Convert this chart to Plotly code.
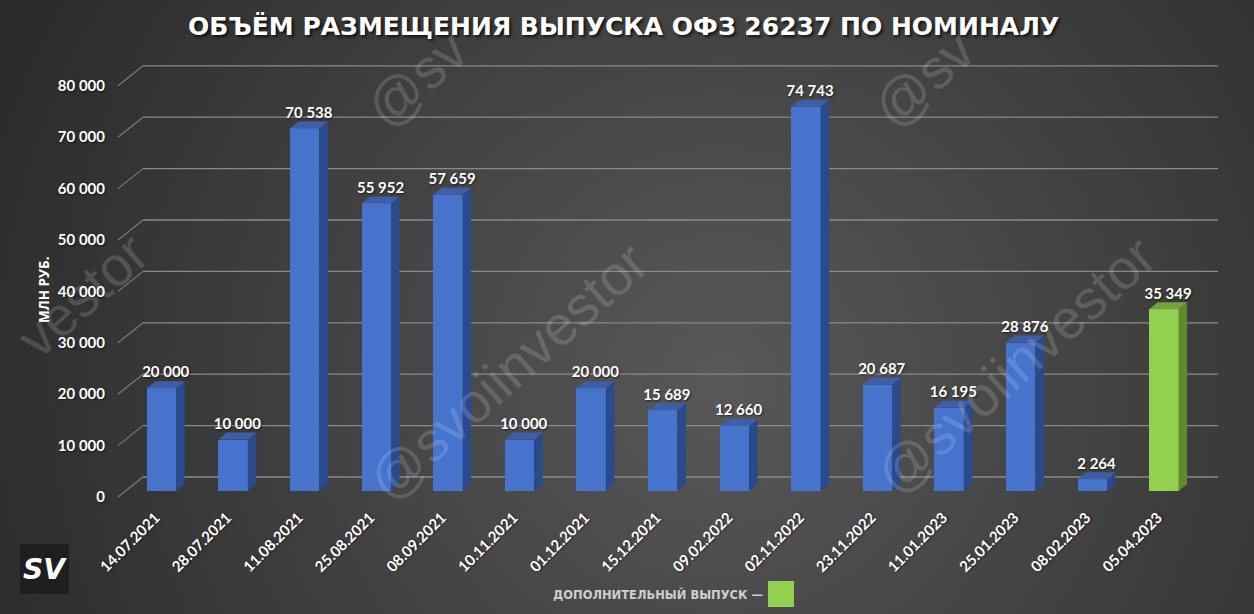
import base64
import plotly.graph_objects as go

# ---------------- data ----------------
dates = ["14.07.2021", "28.07.2021", "11.08.2021", "25.08.2021", "08.09.2021",
         "10.11.2021", "01.12.2021", "15.12.2021", "09.02.2022", "02.11.2022",
         "23.11.2022", "11.01.2023", "25.01.2023", "08.02.2023", "05.04.2023"]
volumes = [20000, 10000, 70538, 55952, 57659, 10000, 20000, 15689, 12660, 74743,
           20687, 16195, 28876, 2264, 35349]
is_additional = [False, False, False, False, False, False, False, False, False, False,
                 False, False, False, False, True]
y_ticks = [0, 10000, 20000, 30000, 40000, 50000, 60000, 70000, 80000]

title_text = "ОБЪЁМ РАЗМЕЩЕНИЯ ВЫПУСКА ОФЗ 26237 ПО НОМИНАЛУ"
y_title = "МЛН РУБ."
legend_text = "ДОПОЛНИТЕЛЬНЫЙ ВЫПУСК —"
watermark = "@svoiinvestor"

# ---------------- geometry (pixels) ----------------
W, H = 1254, 614
ML, MR, MT, MB = 118, 36, 50, 109
PX0, PX1 = ML, W - MR          # plot area x pixels
PY0, PY1 = MT, H - MB          # plot area y pixels (top, bottom)
XC0, XSTEP = 161.5, 71.6       # pixel centre of first category, category step
Y0PX, PX_PER_UNIT = 491, 51.4 / 10000

x_range = [(PX0 - XC0) / XSTEP, (PX1 - XC0) / XSTEP]
y_range = [-(PY1 - Y0PX) / PX_PER_UNIT, (Y0PX - PY0) / PX_PER_UNIT]


def paper_x(px):
    return (px - PX0) / (PX1 - PX0)


def paper_y(py):
    return (PY1 - py) / (PY1 - PY0)


BAR_W = 0.41
DEPTH_DX = 8.5 / XSTEP
DEPTH_DY = 7 / PX_PER_UNIT

BLUE_FRONT, BLUE_SIDE, BLUE_TOP = "#4673cc", "#2a4a8e", "#3f5ea6"
GREEN_FRONT, GREEN_SIDE, GREEN_TOP = "#92d050", "#5f8a30", "#74a23c"

idx = list(range(len(dates)))

fig = go.Figure()

# front faces
fig.add_trace(go.Bar(
    x=idx, y=volumes, width=BAR_W,
    marker=dict(color=[GREEN_FRONT if a else BLUE_FRONT for a in is_additional],
                line=dict(width=0)),
    hoverinfo="skip", showlegend=False,
))


def faces(select):
    sx, sy, tx, ty = [], [], [], []
    for i, v, a in zip(idx, volumes, is_additional):
        if a != select:
            continue
        xl, xr = i - BAR_W / 2, i + BAR_W / 2
        sx += [xr, xr + DEPTH_DX, xr + DEPTH_DX, xr, xr, None]
        sy += [0, DEPTH_DY, v + DEPTH_DY, v, 0, None]
        tx += [xl, xr, xr + DEPTH_DX, xl + DEPTH_DX, xl, None]
        ty += [v, v, v + DEPTH_DY, v + DEPTH_DY, v, None]
    return sx, sy, tx, ty


for sel, cs, ct in [(False, BLUE_SIDE, BLUE_TOP), (True, GREEN_SIDE, GREEN_TOP)]:
    sx, sy, tx, ty = faces(sel)
    fig.add_trace(go.Scatter(x=sx, y=sy, fill="toself", fillcolor=cs, mode="lines",
                             line=dict(width=0, color=cs), hoverinfo="skip", showlegend=False))
    fig.add_trace(go.Scatter(x=tx, y=ty, fill="toself", fillcolor=ct, mode="lines",
                             line=dict(width=0, color=ct), hoverinfo="skip", showlegend=False))

# data labels
fig.add_trace(go.Scatter(
    x=[i + DEPTH_DX / 2 for i in idx], y=[v + DEPTH_DY for v in volumes],
    mode="text", text=[f"{v:,}".replace(",", " ") for v in volumes],
    textposition="top center",
    textfont=dict(family="Lato", size=15, color="white", weight="bold",
                  shadow="1px 1px 2px rgba(0,0,0,0.6)"),
    cliponaxis=False, hoverinfo="skip", showlegend=False,
))

shapes = []
# gridlines (3D: front diagonal + back wall)
BACK_UP = 14 / PX_PER_UNIT
FRONT_DOWN = 6 / PX_PER_UNIT
for t in y_ticks:
    shapes.append(dict(type="line", xref="paper", yref="y", x0=paper_x(118), x1=paper_x(143),
                       y0=t - FRONT_DOWN, y1=t + BACK_UP, layer="below",
                       line=dict(color="#7a7a7a", width=1.2)))
    shapes.append(dict(type="line", xref="paper", yref="y", x0=paper_x(143), x1=paper_x(1218),
                       y0=t + BACK_UP, y1=t + BACK_UP, layer="below",
                       line=dict(color="#8a8a8a", width=1.3)))

# legend square
shapes.append(dict(type="rect", xref="paper", yref="paper",
                   x0=paper_x(768), x1=paper_x(794), y0=paper_y(607), y1=paper_y(581),
                   fillcolor=GREEN_FRONT, line=dict(width=0)))
# logo box
shapes.append(dict(type="rect", xref="paper", yref="paper",
                   x0=paper_x(20), x1=paper_x(69), y0=paper_y(594), y1=paper_y(544),
                   fillcolor="#1f1f1f", line=dict(width=0)))

annotations = []
# watermarks (copies that reach the picture edge show only their visible part)
wm_font = dict(family="Liberation Sans", size=56, color="rgba(255,255,255,0.15)")
for (txt, cx, cy) in [(watermark, 508, 372), (watermark, 1015, 365),
                      (watermark[:3], 416, 79), (watermark[:3], 923, 79),
                      (watermark[7:], 82, 295)]:
    annotations.append(dict(xref="paper", yref="paper", x=paper_x(cx), y=paper_y(cy),
                            text=txt, showarrow=False, textangle=-42,
                            xanchor="center", yanchor="middle", font=wm_font))
# title
annotations.append(dict(xref="paper", yref="paper", x=paper_x(623), y=paper_y(26),
                        text=title_text, showarrow=False, xanchor="center", yanchor="middle",
                        font=dict(family="DejaVu Sans", size=25, color="white", weight="bold",
                                  shadow="2px 2px 3px rgba(0,0,0,0.7)")))
# y axis title
annotations.append(dict(xref="paper", yref="paper", x=paper_x(44), y=paper_y(290),
                        text=y_title, showarrow=False, textangle=-90,
                        xanchor="center", yanchor="middle",
                        font=dict(family="Open Sans", size=13.5, color="white", weight="bold")))
# legend text
annotations.append(dict(xref="paper", yref="paper", x=paper_x(765), y=paper_y(594.5),
                        text=legend_text, showarrow=False, xanchor="right", yanchor="middle",
                        font=dict(family="DejaVu Sans", size=11.5, color="#cfcfcf", weight="bold")))
# logo text
annotations.append(dict(xref="paper", yref="paper", x=paper_x(44.5), y=paper_y(569),
                        text="SV", showarrow=False, xanchor="center", yanchor="middle",
                        font=dict(family="DejaVu Sans", size=28, color="white",
                                  weight="bold", style="italic")))

bg_svg = (
    f'<svg xmlns="http://www.w3.org/2000/svg" width="{W}" height="{H}">'
    '<defs><radialGradient id="g" gradientUnits="userSpaceOnUse" cx="720" cy="380" r="800">'
    '<stop offset="0" stop-color="#585858"/><stop offset="1" stop-color="#2a2a2a"/>'
    '</radialGradient></defs>'
    f'<rect width="{W}" height="{H}" fill="url(#g)"/></svg>'
)
bg_src = "data:image/svg+xml;base64," + base64.b64encode(bg_svg.encode()).decode()

fig.update_layout(
    width=W, height=H,
    margin=dict(l=ML, r=MR, t=MT, b=MB, pad=0),
    paper_bgcolor="#3c3c3c", plot_bgcolor="rgba(0,0,0,0)",
    separators=". ",
    bargap=0,
    showlegend=False,
    shapes=shapes,
    annotations=annotations,
    images=[dict(source=bg_src, xref="paper", yref="paper",
                 x=paper_x(0), y=paper_y(0), sizex=W / (PX1 - PX0), sizey=H / (PY1 - PY0),
                 xanchor="left", yanchor="top", sizing="stretch", layer="below")],
    xaxis=dict(range=x_range, tickmode="array", tickvals=idx, ticktext=dates,
               tickangle=-45, showgrid=False, zeroline=False, showline=False, ticks="",
               ticklabelshift=-6,
               tickfont=dict(family="Lato", size=15, color="white", weight="bold",
                             shadow="1px 1px 2px rgba(0,0,0,0.6)"),
               fixedrange=True),
    yaxis=dict(range=y_range, tickmode="array", tickvals=y_ticks, tickformat=",d",
               showgrid=False, zeroline=False, showline=False, ticks="",
               ticklabelstandoff=12, ticklabelshift=6,
               tickfont=dict(family="Lato", size=15, color="white", weight="bold",
                             shadow="1px 1px 2px rgba(0,0,0,0.6)"),
               fixedrange=True),
)

fig.write_html("out.html", config={"displayModeBar": False})
